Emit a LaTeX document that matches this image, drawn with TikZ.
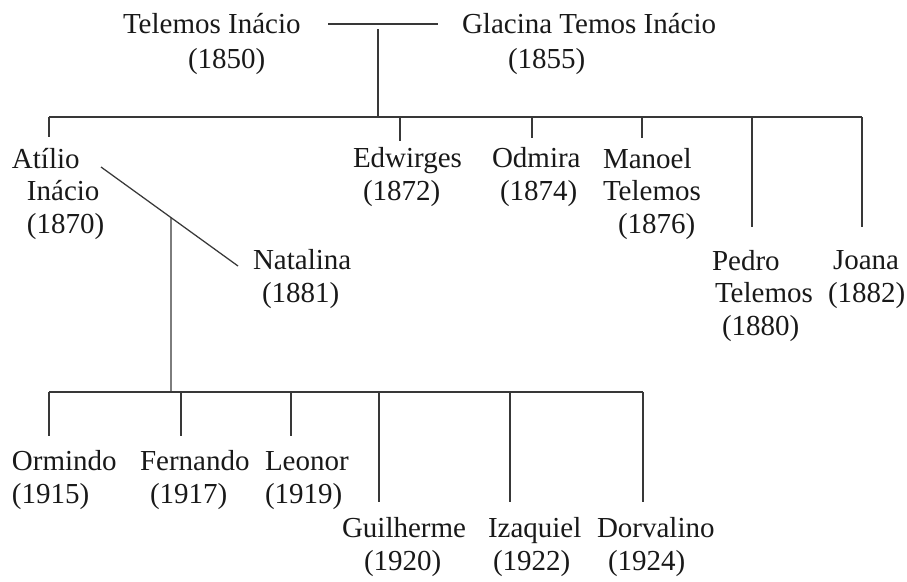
\documentclass[tikz,border=0pt]{standalone}
\usepackage{fontspec}
\setmainfont{Liberation Serif}
\usetikzlibrary{calc}
\tikzset{
  person/.style={anchor=base west, inner sep=0pt, outer sep=0pt, align=left,
    font=\fontsize{29}{32.5}\selectfont, text=black!90},
  toprow/.style={font=\fontsize{29}{35}\selectfont},
  link/.style={draw=black!78, line width=1.25pt}
}
\begin{document}
\begin{tikzpicture}[x=1pt,y=-1pt]
\path[use as bounding box, fill=white] (0,0) rectangle (907,581);
% people (anchored at the baseline of the last line)
\node[person,toprow] (telemos) at (123,68) {Telemos Inácio\\\hspace*{65pt}(1850)};
\node[person,toprow] (glacina) at (462,68) {Glacina Temos Inácio\\\hspace*{46pt}(1855)};
\node[person] (atilio) at (12,233) {Atílio\\\hspace*{15pt}Inácio\\\hspace*{15pt}(1870)};
\node[person] (edwirges) at (353,200) {Edwirges\\\hspace*{10pt}(1872)};
\node[person] (odmira) at (492,200) {Odmira\\\hspace*{8pt}(1874)};
\node[person] (manoel) at (603,233) {Manoel\\Telemos\\\hspace*{15pt}(1876)};
\node[person] (natalina) at (253,302) {Natalina\\\hspace*{9pt}(1881)};
\node[person] (pedro) at (712,335) {Pedro\\\hspace*{3pt}Telemos\\\hspace*{10pt}(1880)};
\node[person] (joana) at (828,302) {\hspace*{5pt}Joana\\(1882)};
\node[person] (ormindo) at (12,503) {Ormindo\\(1915)};
\node[person] (fernando) at (140,503) {Fernando\\\hspace*{10pt}(1917)};
\node[person] (leonor) at (265,503) {Leonor\\(1919)};
\node[person] (guilherme) at (342,570) {Guilherme\\\hspace*{22pt}(1920)};
\node[person] (izaquiel) at (488,570) {Izaquiel\\\hspace*{5pt}(1922)};
\node[person] (dorvalino) at (597,570) {Dorvalino\\\hspace*{11pt}(1924)};
% junction coordinates
\coordinate (mL) at (328,24);
\coordinate (mR) at (438,24);
\coordinate (mTop) at (378,24);
\coordinate (bar1) at (378,117);
\coordinate (b1a) at (49,117);
\coordinate (b1b) at (400,117);
\coordinate (b1c) at (532,117);
\coordinate (b1d) at (642,117);
\coordinate (b1e) at (752,117);
\coordinate (b1f) at (862,117);
\coordinate (t1a) at (49,137);
\coordinate (t1b) at (400,141);
\coordinate (t1c) at (532,138);
\coordinate (t1d) at (642,138);
\coordinate (t1e) at (752,227);
\coordinate (t1f) at (862,227);
\coordinate (dA) at (101,167);
\coordinate (dB) at (238,266);
\coordinate (bar2) at (171,392);
\coordinate (b2a) at (49,392);
\coordinate (b2b) at (181,392);
\coordinate (b2c) at (291,392);
\coordinate (b2d) at (379,392);
\coordinate (b2e) at (510,392);
\coordinate (b2f) at (643,392);
\coordinate (t2a) at (49,436);
\coordinate (t2b) at (181,436);
\coordinate (t2c) at (291,436);
\coordinate (t2d) at (379,502);
\coordinate (t2e) at (510,502);
\coordinate (t2f) at (643,502);
% first generation
\draw[link] (mL) -- (mR);
\draw[link] ([yshift=-5pt]mTop) -- (bar1);
\draw[link] (b1a) -- (b1f);
\draw[link] (b1a) -- (t1a);
\draw[link] (b1b) -- (t1b);
\draw[link] (b1c) -- (t1c);
\draw[link] (b1d) -- (t1d);
\draw[link] (b1e) -- (t1e);
\draw[link] (b1f) -- (t1f);
% marriage Atilio - Natalina
\draw[link] (dA) -- (dB);
\coordinate (dmid) at ($(dA)!0.511!(dB)$);
\draw[link] (dmid) -- (bar2);
% second generation
\draw[link] (b2a) -- (b2f);
\draw[link] (b2a) -- (t2a);
\draw[link] (b2b) -- (t2b);
\draw[link] (b2c) -- (t2c);
\draw[link] (b2d) -- (t2d);
\draw[link] (b2e) -- (t2e);
\draw[link] (b2f) -- (t2f);
\end{tikzpicture}
\end{document}
